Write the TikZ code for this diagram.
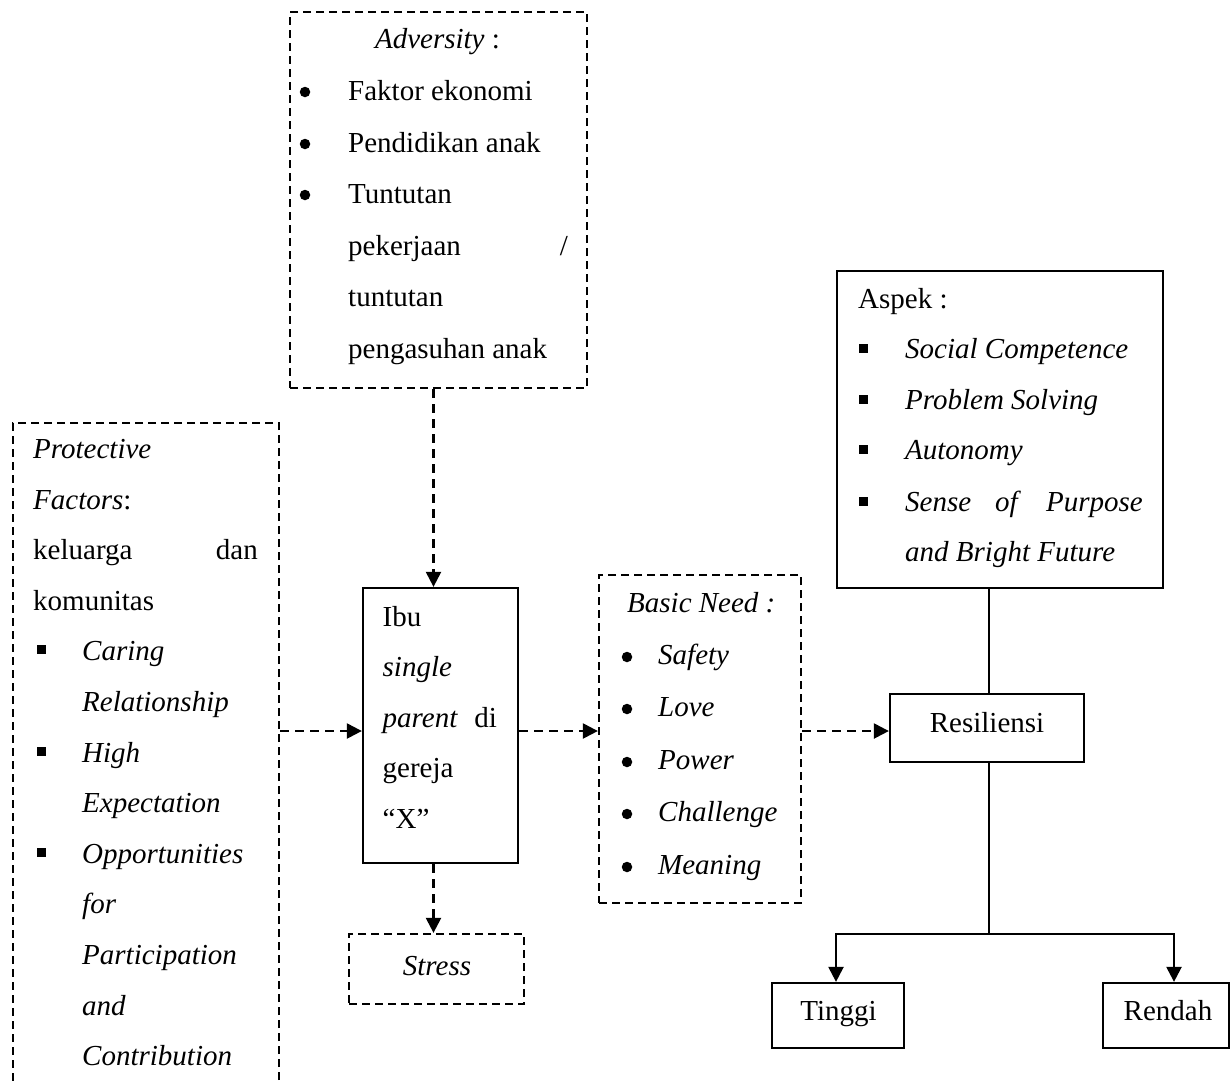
\documentclass[tikz,border=0pt]{standalone}
\usepackage{fontspec}
\setmainfont{Liberation Serif}
\usetikzlibrary{arrows.meta}
\begin{document}
\begin{tikzpicture}[x=1pt,y=-1pt,
  txt/.style={inner sep=0pt, font=\fontsize{29}{35}\selectfont},
  dbox/.style={draw, line width=2.3pt, dash pattern=on 8pt off 5pt, rectangle, inner sep=0pt},
  sbox/.style={draw, line width=2.3pt, rectangle, inner sep=0pt},
  darr/.style={line width=2.3pt, dash pattern=on 9pt off 6pt, -{Triangle[length=15pt,width=15pt]}},
  sarr/.style={line width=2.3pt, -{Triangle[length=15pt,width=15pt]}},
  sline/.style={line width=2.3pt},
  dot/.style={circle, fill, inner sep=0pt, minimum size=10.5pt},
  sq/.style={rectangle, fill, inner sep=0pt, minimum size=9pt}]
\path[use as bounding box] (0,0) rectangle (1230,1082);
\clip (0,0) rectangle (1230,1082);

% boxes
\node[dbox, minimum width=297pt, minimum height=376pt] (adv) at (438.5,200) {};
\node[dbox, minimum width=266pt, minimum height=690pt] (prot) at (146,768) {};
\node[sbox, minimum width=155pt, minimum height=275pt] (ibu) at (440.5,725.5) {};
\node[dbox, minimum width=202pt, minimum height=328pt] (basic) at (700,739) {};
\node[dbox, minimum width=175pt, minimum height=70pt] (stress) at (436.5,969) {};
\node[sbox, minimum width=326pt, minimum height=317pt] (aspek) at (1000,429.5) {};
\node[sbox, minimum width=194pt, minimum height=68pt] (resil) at (987,728) {};
\node[sbox, minimum width=132pt, minimum height=65pt] (tinggi) at (838,1015.5) {};
\node[sbox, minimum width=126pt, minimum height=65pt] (rendah) at (1166,1015.5) {};

% helper coordinates
\coordinate (ya) at (0,731);
\coordinate (xa) at (433.5,0);
\coordinate (xr) at (989,0);
\coordinate (yb) at (0,934);
\coordinate (xt) at (836,0);
\coordinate (xn) at (1174,0);

% connectors
\draw[darr] (adv.south -| xa) -- (ibu.north -| xa);
\draw[darr] (ibu.south -| xa) -- (stress.north -| xa);
\draw[darr] (prot.east |- ya) -- (ibu.west |- ya);
\draw[darr] (ibu.east |- ya) -- (basic.west |- ya);
\draw[darr] (basic.east |- ya) -- (resil.west |- ya);
\draw[sline] (aspek.south -| xr) -- (resil.north -| xr);
\draw[sline] (resil.south -| xr) -- (xr |- yb);
\draw[sarr] (xr |- yb) -| (tinggi.north -| xt);
\draw[sarr] (xr |- yb) -| (rendah.north -| xn);

% Adversity texts
\node[txt, anchor=base] (a0) at (437.5,48) {\textit{Adversity} :};
\node[dot] (ad1) at (305,92) {};
\node[txt, anchor=base west] (a1) at (348,100) {Faktor ekonomi};
\node[dot] (ad2) at (305,144) {};
\node[txt, anchor=base west] (a2) at (348,152) {Pendidikan anak};
\node[dot] (ad3) at (305,195) {};
\node[txt, anchor=base west] (a3) at (348,203) {Tuntutan};
\node[txt, anchor=base west] (a4) at (348,255) {pekerjaan};
\node[txt, anchor=base east] (a4b) at (568,255) {/};
\node[txt, anchor=base west] (a5) at (348,306) {tuntutan};
\node[txt, anchor=base west] (a6) at (348,358) {pengasuhan anak};

% Protective texts
\node[txt, anchor=base west] (p0) at (33,458) {\textit{Protective}};
\node[txt, anchor=base west] (p1) at (33,509) {\textit{Factors}:};
\node[txt, anchor=base west] (p2) at (33,559) {keluarga};
\node[txt, anchor=base east] (p2b) at (258,559) {dan};
\node[txt, anchor=base west] (p3) at (33,610) {komunitas};
\node[sq] (ps1) at (41,649) {};
\node[txt, anchor=base west] (p4) at (82,660) {\textit{Caring}};
\node[txt, anchor=base west] (p5) at (82,711) {\textit{Relationship}};
\node[sq] (ps2) at (41,751) {};
\node[txt, anchor=base west] (p6) at (82,762) {\textit{High}};
\node[txt, anchor=base west] (p7) at (82,812) {\textit{Expectation}};
\node[sq] (ps3) at (41,852) {};
\node[txt, anchor=base west] (p8) at (82,863) {\textit{Opportunities}};
\node[txt, anchor=base west] (p9) at (82,913) {\textit{for}};
\node[txt, anchor=base west] (p10) at (82,964) {\textit{Participation}};
\node[txt, anchor=base west] (p11) at (82,1015) {\textit{and}};
\node[txt, anchor=base west] (p12) at (82,1065) {\textit{Contribution}};

% Ibu texts
\node[txt, anchor=base west] (i0) at (382.5,626) {Ibu};
\node[txt, anchor=base west] (i1) at (382.5,676.5) {\textit{single}};
\node[txt, anchor=base west] (i2) at (382.5,727) {\textit{parent}};
\node[txt, anchor=base east] (i2b) at (497,727) {di};
\node[txt, anchor=base west] (i3) at (382.5,777.5) {gereja};
\node[txt, anchor=base west] (i4) at (382.5,828) {“X”};

% Stress
\node[txt, anchor=base] (st) at (437,975) {\textit{Stress}};

% Basic need texts
\node[txt, anchor=base west] (n0) at (627,612) {\textit{Basic Need :}};
\node[dot] (nd1) at (627,657) {};
\node[txt, anchor=base west] (n1) at (658,664) {\textit{Safety}};
\node[dot] (nd2) at (627,709) {};
\node[txt, anchor=base west] (n2) at (658,716) {\textit{Love}};
\node[dot] (nd3) at (627,762) {};
\node[txt, anchor=base west] (n3) at (658,769) {\textit{Power}};
\node[dot] (nd4) at (627,814) {};
\node[txt, anchor=base west] (n4) at (658,821) {\textit{Challenge}};
\node[dot] (nd5) at (627,867) {};
\node[txt, anchor=base west] (n5) at (658,874) {\textit{Meaning}};

% Aspek texts
\node[txt, anchor=base west] (s0) at (858,308) {Aspek :};
\node[sq] (ss1) at (863,348) {};
\node[txt, anchor=base west] (s1) at (905,358) {\textit{Social Competence}};
\node[sq] (ss2) at (863,399) {};
\node[txt, anchor=base west] (s2) at (905,409) {\textit{Problem Solving}};
\node[sq] (ss3) at (863,449) {};
\node[txt, anchor=base west] (s3) at (905,459) {\textit{Autonomy}};
\node[sq] (ss4) at (863,501) {};
\node[txt, anchor=base west] (s4) at (905,511) {\textit{Sense}};
\node[txt, anchor=base] (s4b) at (1008,511) {\textit{of}};
\node[txt, anchor=base east] (s4c) at (1143,511) {\textit{Purpose}};
\node[txt, anchor=base west] (s5) at (905,561) {\textit{and Bright Future}};

% single-line labels
\node[txt, anchor=base] (rs) at (987,732) {Resiliensi};
\node[txt, anchor=base] (tg) at (838.5,1020) {Tinggi};
\node[txt, anchor=base] (rd) at (1168,1020) {Rendah};
\end{tikzpicture}
\end{document}
